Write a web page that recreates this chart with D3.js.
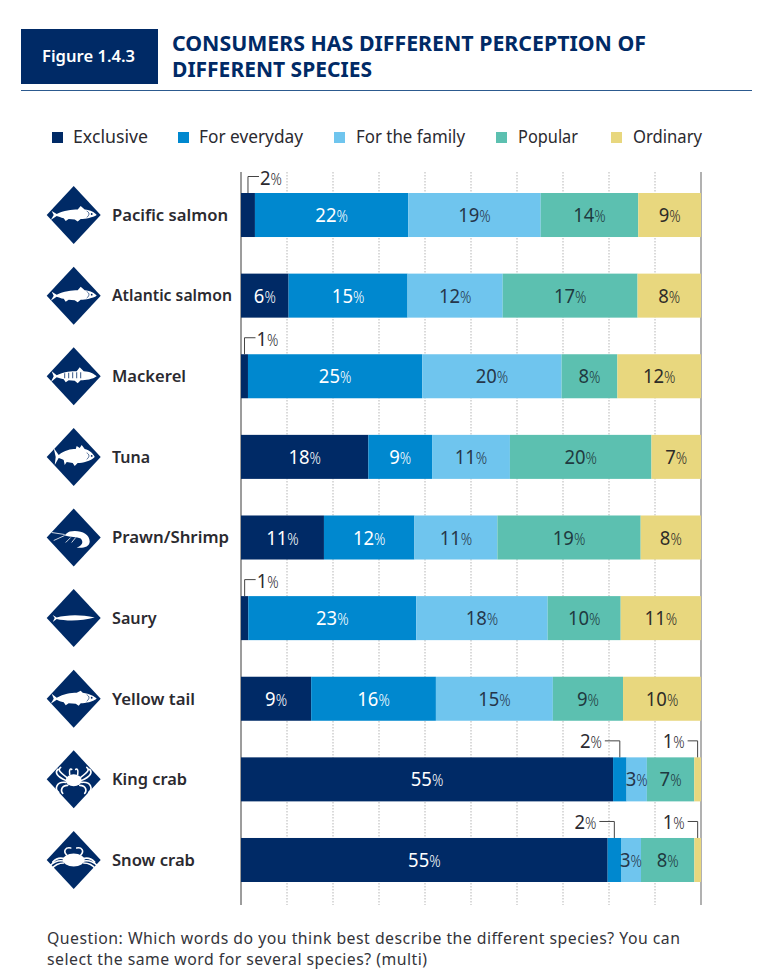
<!DOCTYPE html>
<html><head><meta charset="utf-8">
<script src="https://cdn.jsdelivr.net/npm/d3@7"></script>
<style>
html,body{margin:0;padding:0;background:#fff}
svg{display:block}
text{font-family:"Noto Sans",sans-serif}
</style></head><body>
<div id="chart"></div>
<script>
const categories=["Pacific salmon","Atlantic salmon","Mackerel","Tuna","Prawn/Shrimp","Saury","Yellow tail","King crab","Snow crab"];
const seriesNames=["Exclusive","For everyday","For the family","Popular","Ordinary"];
const exclusive=[2,6,1,18,11,1,9,55,55];
const forEveryday=[22,15,25,9,12,23,16,2,2];
const forTheFamily=[19,12,20,11,11,18,15,3,3];
const popular=[14,17,8,20,19,10,9,7,8];
const ordinary=[9,8,12,7,8,11,10,1,1];
const iconKinds=["salmon","salmon","mackerel","tuna","prawn","saury","yellowtail","kingcrab","snowcrab"];
const gridTicks=[0.1,0.2,0.3,0.4,0.5,0.6,0.7,0.8,0.9];
const colors=["#002a66","#0088cf","#6fc5ee","#5cc0b0","#e8d77e"];
const textColors=["#ffffff","#ffffff","#26364a","#1f3a40","#2e2c28"];
const labelWidths=[116,120,74,38,117,44.5,83,75,83];

const W=774,H=978,ink="#2b2a30",navy="#002a66";
const svg=d3.select("#chart").append("svg").attr("width",W).attr("height",H);
const allSeries=[exclusive,forEveryday,forTheFamily,popular,ordinary];
const rows=categories.map((c,i)=>{
  const vals=allSeries.map(s=>s[i]);
  const total=d3.sum(vals);let cum=0;
  return {c,i,segs:vals.map((v,k)=>{const s={k,v,x0:cum/total,x1:(cum+v)/total};cum+=v;return s;})};
});
const x=d3.scaleLinear().domain([0,1]).range([241,701]);
const y=d3.scaleBand().domain(categories).range([193,882]).paddingInner(0.454);

// header
svg.append("rect").attr("x",21).attr("y",29).attr("width",137).attr("height",55).attr("fill",navy);
svg.append("text").attr("x",42).attr("y",62).attr("fill","#fff")
  .attr("font-size",16.5).attr("font-weight",600).attr("textLength",93).attr("lengthAdjust","spacingAndGlyphs").text("Figure 1.4.3");
const title=svg.append("text").attr("fill",navy).attr("font-size",22).attr("font-weight",700);
title.append("tspan").attr("x",172).attr("y",50.5).attr("textLength",474).attr("lengthAdjust","spacingAndGlyphs").text("CONSUMERS HAS DIFFERENT PERCEPTION OF");
title.append("tspan").attr("x",172).attr("y",76.5).attr("textLength",200).attr("lengthAdjust","spacingAndGlyphs").text("DIFFERENT SPECIES");
svg.append("line").attr("x1",21).attr("x2",752).attr("y1",90.5).attr("y2",90.5).attr("stroke","#2c5a8f").attr("stroke-width",1.2);

// legend
const legX=[52,178,334,496,611], legT=[73,199,356,518,633], legW=[75,104,109,60,69];
const leg=svg.append("g").selectAll("g").data(seriesNames).join("g");
leg.append("rect").attr("x",(d,i)=>legX[i]).attr("y",132).attr("width",11).attr("height",11).attr("fill",(d,i)=>colors[i]);
leg.append("text").attr("x",(d,i)=>legT[i]).attr("y",143).attr("font-size",17.5).attr("fill",ink)
  .attr("textLength",(d,i)=>legW[i]).attr("lengthAdjust","spacingAndGlyphs").text(d=>d);

// grid + axes
svg.append("g").selectAll("line").data(gridTicks).join("line")
  .attr("x1",d=>x(d)).attr("x2",d=>x(d)).attr("y1",172).attr("y2",905)
  .attr("stroke","#b5b5b5").attr("stroke-width",1).attr("stroke-dasharray","1.5 1.5");
svg.append("line").attr("x1",x(0)).attr("x2",x(0)).attr("y1",172).attr("y2",905).attr("stroke","#3a3a3a").attr("stroke-width",1);
svg.append("line").attr("x1",x(1)).attr("x2",x(1)).attr("y1",172).attr("y2",905).attr("stroke","#7d7d7d").attr("stroke-width",1.2);

// bars
const row=svg.append("g").selectAll("g").data(rows).join("g");
row.selectAll("rect").data(d=>d.segs).join("rect")
  .attr("x",d=>x(d.x0)).attr("width",d=>x(d.x1)-x(d.x0))
  .attr("y",function(){return y(d3.select(this.parentNode).datum().c);})
  .attr("height",y.bandwidth()).attr("fill",d=>colors[d.k]);

const numSize=20.5,xs=0.9;
function pct(px,py,anchor,fill,v){
  const t=svg.append("text").attr("transform",`translate(${px},${py}) scale(${xs},1)`)
    .attr("text-anchor",anchor).attr("fill",fill);
  t.append("tspan").attr("font-size",numSize).attr("font-weight",400).text(v);
  t.append("tspan").attr("font-size",numSize*0.76).attr("font-weight",300).text("%");
}
rows.forEach(r=>{
  const cy=y(r.c)+y.bandwidth()/2;
  r.segs.forEach(s=>{
    if(s.v<=2){
      const cx=x((s.x0+s.x1)/2), top=y(r.c), ly=top-16.5;
      const left=s.k===0;
      const hx=left?cx+11:cx-(s.k===4?10:15);
      svg.append("path").attr("fill","none").attr("stroke","#444").attr("stroke-width",1)
        .attr("d",d3.line()([[cx,top],[cx,ly],[hx,ly]]));
      pct(left?hx+1:hx-3,ly+(left?8:7.5),left?"start":"end",ink,s.v);
    } else {
      pct(x((s.x0+s.x1)/2),cy+7,"middle",textColors[s.k],s.v);
    }
  });
});

// category labels
row.append("text").attr("x",112).attr("y",d=>y(d.c)+y.bandwidth()/2+5.8)
  .attr("font-size",16.5).attr("font-weight",600).attr("fill",ink)
  .attr("textLength",d=>labelWidths[d.i]).attr("lengthAdjust","spacingAndGlyphs").text(d=>d.c);

// icons
const body={
 salmon:"M-22 -4 L-17 -1 C-10 -4.5 -2 -5.5 4 -5.5 L7 -9 L11 -5.5 C17 -5 21 -2.5 23 0 C19 2.5 12 4 7 4 L4 6.5 L1 4.5 L-5 4 L-8 6 L-10 3.2 C-13 2.5 -15 1.5 -17 1 L-23 5 L-20 0 Z",
 mackerel:"M-22 -5 L-17 -1 C-9 -5 -2 -5 3 -5 L6 -9 L10 -5 C16 -5 21 -2 23 0 C19 3 12 4 7 4 L4 7 L1 4.5 L-5 4 L-8 6 L-10 3 C-13 2 -15 2 -17 1 L-23 6 L-20 0 Z",
 tuna:"M-20 -9 L-15 -2 C-9 -7 -3 -8 2 -8 L3 -11 L6 -9 L8 -12 L11 -8 C16 -7 20 -3 21 0 C17 4 9 6 4 6 L1 9 L-1 6 L-7 5 L-9 8 L-10 3 C-12 2 -14 1 -15 1 L-19 8 L-18 0 Z",
 yellowtail:"M-22 -5 L-17 -1 C-10 -5 -3 -6 3 -6 L7 -8 L9 -6 C16 -5 21 -2.5 23 0 C19 3 12 4.5 7 4.5 L5 7 L2 5 L-5 4.5 L-8 6.5 L-10 3.5 C-13 3 -15 2 -17 1 L-23 5 L-20 0 Z",
 saury:"M-21 -3 L-17 -0.5 C-8 -3 6 -4 21 -0.5 C8 3 -8 3 -17 0.8 L-21 4 L-19 0 Z"
};
row.each(function(r){
  const g=d3.select(this).append("g").attr("transform",`translate(73.7,${y(r.c)+y.bandwidth()/2})`);
  g.append("path").attr("d","M0 -29 L27 0 L0 29 L-27 0 Z").attr("fill",navy);
  const k=iconKinds[r.i];
  if(body[k]){
    g.append("path").attr("d",body[k]).attr("fill","#fff");
    if(k==="mackerel"){
      g.append("path").attr("d","M-9 -3V2M-5 -3.5V2M-1 -4V2M3 -4V2M7 -4V2").attr("stroke",navy).attr("stroke-width",0.8);
    }
    if(k==="salmon"||k==="tuna"||k==="yellowtail"){
      g.append("path").attr("d","M13 -4 C16 -2.5 16 0 13 2.5").attr("stroke",navy).attr("stroke-width",0.7).attr("fill","none");
      g.append("circle").attr("cx",18).attr("cy",-1).attr("r",0.9).attr("fill",navy);
    }
  } else if(k==="prawn"){
    g.append("path").attr("d","M-4 -6 C6 -8 16 -4 16 4 C16 10 8 11 3 10 C9 8 10 4 7 1 C3 -1 -3 0 -9 -2 C-8 -4 -6 -5 -4 -6 Z").attr("fill","#fff");
    g.append("path").attr("d","M-9 -3 L-22 -5 M-9 -2 L-20 3 M-3 0 L-8 5 M2 0 L-2 5").attr("stroke","#fff").attr("stroke-width",0.8).attr("fill","none");
  } else {
    const legs=k==="kingcrab"
      ?"M-7 -2 C-15 -8 -16 -10 -13 -12 M-8 1 C-17 -3 -19 -7 -16 -10 M-8 3 C-18 2 -19 10 -15 13 M-6 6 C-13 6 -13 12 -11 14 M7 -2 C15 -8 16 -10 13 -12 M8 1 C17 -3 19 -7 16 -10 M8 3 C18 2 19 10 15 13 M6 6 C13 6 13 12 11 14 M-4 -5 C-5 -10 -3 -11 -2 -10 M4 -5 C5 -10 3 -11 2 -10"
      :"M-10 1 C-15 0 -20 2 -24 6 M-10 3 C-15 3 -19 5 -22 9 M-9 -1 C-14 -3 -18 -1 -21 2 M10 1 C15 0 20 2 24 6 M10 3 C15 3 19 5 22 9 M9 -1 C14 -3 18 -1 21 2 M-7 -5 C-11 -9 -8 -13 -3 -12 M7 -5 C11 -9 8 -13 3 -12";
    g.append("path").attr("d",legs).attr("stroke","#fff").attr("stroke-width",1.6).attr("fill","none").attr("stroke-linecap","round");
    g.append("ellipse").attr("cx",0).attr("cy",k==="kingcrab"?1:0).attr("rx",k==="kingcrab"?8:11).attr("ry",k==="kingcrab"?6:6.5).attr("fill","#fff");
  }
});

// footer
const foot=svg.append("g").attr("font-size",15.8).attr("fill","#34343a");
foot.append("text").attr("x",47).attr("y",944).attr("textLength",633).attr("lengthAdjust","spacing").text("Question: Which words do you think best describe the different species? You can");
foot.append("text").attr("x",47).attr("y",965).attr("textLength",380).attr("lengthAdjust","spacing").text("select the same word for several species? (multi)");
</script>
</body></html>
